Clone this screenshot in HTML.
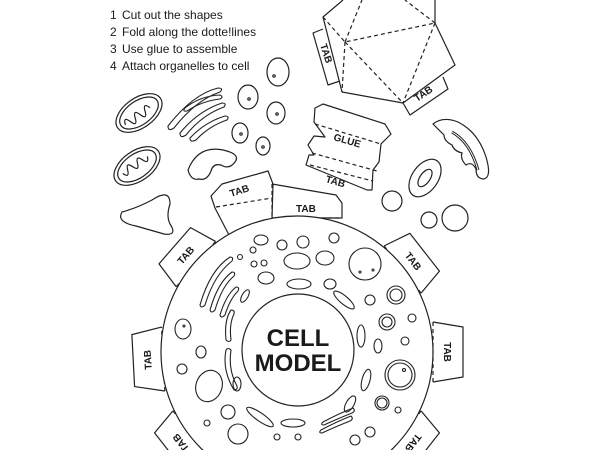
<!DOCTYPE html>
<html><head><meta charset="utf-8"><style>
html,body{margin:0;padding:0;background:#fff;width:600px;height:450px;overflow:hidden}
svg{display:block}
text{font-family:"Liberation Sans",sans-serif;fill:#1a1a1a}
</style></head><body>
<svg width="600" height="450" viewBox="0 0 600 450" xmlns="http://www.w3.org/2000/svg">
<g fill="none" stroke="#222" stroke-width="1.2" stroke-linejoin="round">

<!-- instructions -->
<g stroke="none" font-size="12">
<text x="110" y="19">1</text><text x="122" y="19">Cut out the shapes</text>
<text x="110" y="36">2</text><text x="122" y="36">Fold along the dotte!lines</text>
<text x="110" y="53">3</text><text x="122" y="53">Use glue to assemble</text>
<text x="110" y="70">4</text><text x="122" y="70">Attach organelles to cell</text>
</g>

<!-- polyhedron -->
<path d="M343,0 L323,17 L342,92 L403,103 L455,65 L435,23 L435,0"/>
<g stroke-dasharray="4,3">
<path d="M323,17 L345,42 L435,23 M345,42 L342,92 M345,42 L403,103 M435,23 L403,103 M345,42 L362,0 M435,23 L405,0"/>
</g>
<path d="M323,29 L313,33 L328,85 L340,81"/>
<path d="M403,103 L410,115 L448,89 L443,77"/>
<text x="0" y="0" font-size="10" font-weight="bold" stroke="none" transform="translate(320,45) rotate(72)">TAB</text>
<text x="0" y="0" font-size="10" font-weight="bold" stroke="none" transform="translate(417,102) rotate(-34)">TAB</text>

<!-- glue piece -->
<path d="M315,108 L323,104 L385,124 L391,134 L381,144 L379,162 L373,170 L372,190 L367,190 L306,165 L309,155 L314,155 L308,145 L314,136 L325,137 L314,122 Z"/>
<path d="M315,124 L381,144 M312,153 L377,171 M310,165 L373,181" stroke-dasharray="4,3"/>
<text font-size="10" font-weight="bold" stroke="none" transform="translate(333,140) rotate(16)">GLUE</text>
<text font-size="10" font-weight="bold" stroke="none" transform="translate(325,182) rotate(16)">TAB</text>

<!-- mitochondria -->
<g transform="translate(139,113) rotate(-35)">
<ellipse rx="26" ry="15"/><ellipse rx="22" ry="12"/>
<path d="M-18,2 q3,-9 6,0 t6,0 t6,0 t6,0 t6,0"/>
</g>
<g transform="translate(137,166) rotate(-35)">
<ellipse rx="26" ry="15"/><ellipse rx="22" ry="12"/>
<path d="M-16,-2 q3,8 6,0 t6,0 t6,0 t6,0 t6,0"/>
</g>
<!-- golgi -->
<g stroke-width="1.1">
<path d="M168,126 q25,-32 50,-38 q6,0 2,4 q-24,8 -46,36 q-6,4 -6,-2z"/>
<path d="M180,133 q18,-22 42,-30 q5,0 2,4 q-22,8 -38,28 q-6,4 -6,-2z"/>
<path d="M190,138 q15,-16 35,-22 q5,0 2,4 q-18,6 -31,20 q-6,3 -6,-2z"/>
<path d="M185,108 q15,-12 35,-13 q4,2 0,4 q-18,2 -33,12 q-5,1 -2,-3z"/>
</g>
<!-- small vesicles -->
<ellipse cx="278" cy="72" rx="11" ry="14"/><circle cx="274" cy="76" r="1.2"/>
<ellipse cx="248" cy="97" rx="10" ry="12"/><circle cx="249" cy="99" r="1.2"/>
<ellipse cx="276" cy="113" rx="9" ry="11"/><circle cx="277" cy="114" r="1.2"/>
<ellipse cx="240" cy="133" rx="8" ry="10"/><circle cx="241" cy="134" r="1.2"/>
<ellipse cx="263" cy="146" rx="7" ry="9"/><circle cx="263" cy="147" r="1.2"/>
<!-- kidney -->
<path d="M188,170 q10,-25 35,-20 q18,4 12,12 q-6,8 -14,3 q-8,-2 -10,6 q-4,10 -12,8 q-8,2 -11,-9z"/>
<!-- blob -->
<path d="M122,212 q15,-4 30,-12 q18,-12 18,4 q-4,12 0,20 q8,12 -6,10 q-14,-4 -28,-8 q-20,-4 -14,-14z"/>

<!-- right side organelles -->
<path d="M433,124 q10,-8 25,-2 q20,10 28,35 q6,20 -2,22 q-8,0 -8,-10 q-4,-8 -10,-4 q-6,-6 -4,-12 q-8,-2 -10,-8 q-8,-4 -8,-10 q-4,-4 -11,-11z"/>
<path d="M452,132 q18,10 26,38" stroke-width="3"/><path d="M452,132 q18,10 26,38" stroke="#fff" stroke-width="1"/>
<g transform="translate(425,178) rotate(35)"><ellipse rx="13" ry="21"/><ellipse rx="5" ry="10"/></g>
<circle cx="392" cy="201" r="10"/><circle cx="429" cy="220" r="8"/><circle cx="455" cy="218" r="13"/>

<!-- cell tabs -->
<g id="tabs">
<g transform="translate(297,352) rotate(52)">
<path d="M-30,-134 L-24,-162 L24,-162 L30,-134"/><path d="M-30,-134 L30,-134" stroke-dasharray="4,3"/>
<text x="0" y="-144" font-size="10" font-weight="bold" stroke="none" text-anchor="middle">TAB</text></g>
<g transform="translate(297,352) rotate(90)">
<path d="M-30,-136 L-25,-166 L25,-166 L30,-136"/><path d="M-30,-136 L30,-136" stroke-dasharray="4,3"/>
<text x="0" y="-147" font-size="10" font-weight="bold" stroke="none" text-anchor="middle">TAB</text></g>
<g transform="translate(297,352) rotate(128)">
<path d="M-30,-134 L-24,-162 L24,-162 L30,-134"/><path d="M-30,-134 L30,-134" stroke-dasharray="4,3"/>
<text x="0" y="-144" font-size="10" font-weight="bold" stroke="none" text-anchor="middle">TAB</text></g>
<g transform="translate(297,352) rotate(-128)">
<path d="M-30,-134 L-24,-162 L24,-162 L30,-134"/><path d="M-30,-134 L30,-134" stroke-dasharray="4,3"/>
<text x="0" y="-144" font-size="10" font-weight="bold" stroke="none" text-anchor="middle">TAB</text></g>
<g transform="translate(297,352) rotate(-93)">
<path d="M-32,-134 L-26,-164 L26,-164 L32,-134"/><path d="M-32,-134 L32,-134" stroke-dasharray="4,3"/>
<text x="0" y="-146" font-size="10" font-weight="bold" stroke="none" text-anchor="middle">TAB</text></g>
<g transform="translate(297,352) rotate(-49)">
<path d="M-30,-134 L-24,-162 L24,-162 L30,-134"/><path d="M-30,-134 L30,-134" stroke-dasharray="4,3"/>
<text x="0" y="-144" font-size="10" font-weight="bold" stroke="none" text-anchor="middle">TAB</text></g>
</g>
<!-- top tabs -->
<path d="M229,235 L215,208 L211,196 L222,184 L268,171 L273,184 L272,218 L342,218 L342,203 L336,195 L272,184"/>
<path d="M216,207 L272,198 M272,184 L272,218 M272,218 L342,218" stroke-dasharray="4,3"/>
<text font-size="10" font-weight="bold" stroke="none" transform="translate(231,197) rotate(-18)">TAB</text>
<text x="296" y="212" font-size="10" font-weight="bold" stroke="none">TAB</text>

<!-- cell body -->
<circle cx="297" cy="352" r="136" fill="#fff"/>
<circle cx="298" cy="350" r="56"/>
<text x="298" y="346" font-size="24" font-weight="bold" stroke="none" text-anchor="middle">CELL</text>
<text x="298" y="371" font-size="24" font-weight="bold" stroke="none" text-anchor="middle">MODEL</text>

<!-- inner organelles -->
<g stroke-width="1.1">
<ellipse cx="261" cy="240" rx="7" ry="5"/><circle cx="282" cy="245" r="5"/><circle cx="303" cy="242" r="6"/><circle cx="334" cy="238" r="5"/>
<circle cx="253" cy="250" r="3"/><circle cx="264" cy="263" r="3"/><circle cx="254" cy="264" r="3"/><circle cx="240" cy="257" r="2.5"/>
<ellipse cx="297" cy="261" rx="13" ry="8"/><ellipse cx="325" cy="258" rx="9" ry="7"/>
<ellipse cx="266" cy="278" rx="8" ry="6"/><ellipse cx="299" cy="284" rx="12" ry="5"/><ellipse cx="330" cy="284" rx="6" ry="5"/>
<circle cx="365" cy="264" r="16"/><circle cx="360" cy="272" r="1"/><circle cx="373" cy="270" r="1"/>
<ellipse cx="344" cy="300" rx="13" ry="4" transform="rotate(40 344 300)"/>
<circle cx="370" cy="300" r="5"/><circle cx="396" cy="295" r="9"/><circle cx="396" cy="295" r="6"/>
<circle cx="387" cy="322" r="8"/><circle cx="387" cy="322" r="5"/><circle cx="412" cy="318" r="4"/>
<ellipse cx="361" cy="336" rx="4" ry="11"/><ellipse cx="378" cy="346" rx="4" ry="7"/><circle cx="405" cy="341" r="4"/>
<circle cx="400" cy="375" r="15"/><circle cx="400" cy="375" r="12"/><circle cx="404" cy="370" r="1.5"/>
<ellipse cx="366" cy="380" rx="4" ry="11" transform="rotate(15 366 380)"/>
<circle cx="382" cy="403" r="7"/><circle cx="382" cy="403" r="5"/><circle cx="398" cy="410" r="3"/>
<ellipse cx="350" cy="404" rx="4" ry="9" transform="rotate(30 350 404)"/>
<circle cx="370" cy="432" r="5"/><circle cx="355" cy="440" r="5"/>
<path d="M323,422 q15,-8 30,-14 q3,3 -1,5 q-15,6 -28,12 q-4,0 -1,-3z"/>
<path d="M321,430 q15,-8 30,-14 q3,3 -1,5 q-15,6 -28,12 q-4,0 -1,-3z"/>
<ellipse cx="293" cy="423" rx="12" ry="4"/>
<ellipse cx="260" cy="417" rx="16" ry="4" transform="rotate(35 260 417)"/>
<circle cx="277" cy="437" r="3"/><circle cx="298" cy="437" r="3"/>
<circle cx="228" cy="412" r="7"/><circle cx="238" cy="434" r="10"/><circle cx="207" cy="423" r="3"/>
<ellipse cx="209" cy="386" rx="13" ry="16" transform="rotate(20 209 386)"/>
<ellipse cx="237" cy="384" rx="4" ry="7"/>
<circle cx="182" cy="369" r="5"/><ellipse cx="201" cy="352" rx="5" ry="6"/>
<ellipse cx="183" cy="329" rx="8" ry="10"/><circle cx="184" cy="326" r="1"/>
<ellipse cx="245" cy="296" rx="3" ry="7" transform="rotate(30 245 296)"/>
<path d="M200,305 q10,-35 30,-48 q4,0 2,4 q-18,14 -27,44 q-4,4 -5,0z"/>
<path d="M210,310 q8,-28 22,-38 q4,0 2,4 q-12,10 -19,34 q-4,4 -5,0z"/>
<path d="M220,315 q6,-20 16,-28 q4,0 2,4 q-8,8 -13,24 q-4,4 -5,0z"/>
<path d="M226,340 q-2,-20 5,-30 q4,0 3,4 q-5,10 -3,26 q-2,3 -5,0z"/>
<path d="M226,350 q-4,20 8,40 q4,0 3,-4 q-9,-16 -6,-36 q-3,-3 -5,0z"/>
</g>
</g>
</svg>
</body></html>
